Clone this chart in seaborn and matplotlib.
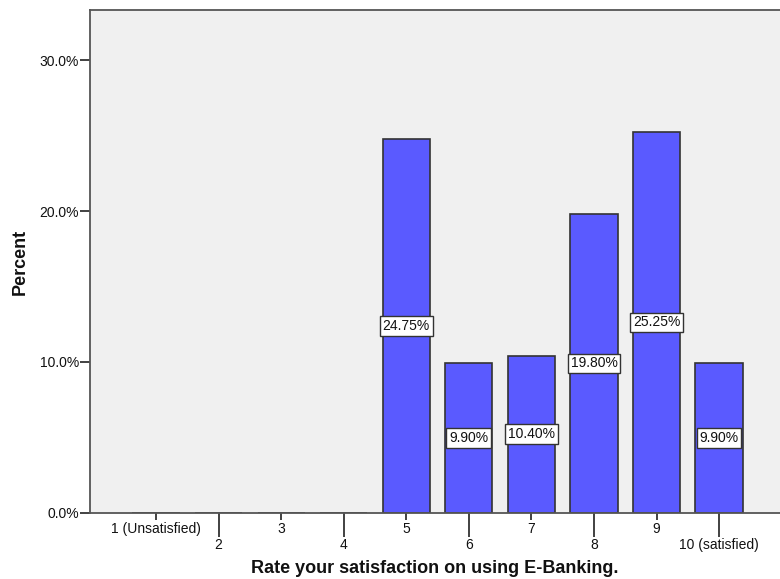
import matplotlib
matplotlib.use("Agg")
import matplotlib.pyplot as plt
import seaborn as sns
from matplotlib.ticker import FuncFormatter

# Satisfaction ratings and the share of respondents per rating (%)
ratings = ["1 (Unsatisfied)", "2", "3", "4", "5", "6", "7", "8", "9", "10 (satisfied)"]
percent = [0.0, 0.0, 0.0, 0.0, 24.75, 9.90, 10.40, 19.80, 25.25, 9.90]
y_ticks = [0, 10, 20, 30]

sns.set_theme(style="white")
plt.rcParams["font.family"] = ["Liberation Sans", "DejaVu Sans"]

W, H = 780, 579
fig = plt.figure(figsize=(W / 100, H / 100), dpi=100)
left_px, right_px, top_px, bottom_px = 90, 780, 10.3, 512.7
ax = fig.add_axes([left_px / W, (H - bottom_px) / H,
                   (right_px - left_px) / W, (bottom_px - top_px) / H])
ax.set_facecolor("#F0F0F0")

bar_color = "#5A5AFF"
sns.barplot(x=ratings, y=percent, order=ratings, color=bar_color, saturation=1,
            width=0.755, edgecolor="#333333", linewidth=1.2, ax=ax)

# value boxes at mid-height of each non-empty bar
for i, v in enumerate(percent):
    if v > 0:
        ax.text(i, v / 2, f"{v:.2f}%", ha="center", va="center", fontsize=10,
                color="#111111",
                bbox=dict(boxstyle="square,pad=0.2", fc="white", ec="#333333", lw=1))

ax.set_xlim(-1.055, 9.974)
ax.set_ylim(0, 33.31)
ax.set_yticks(y_ticks)
ax.yaxis.set_major_formatter(FuncFormatter(lambda x, _: f"{x:.1f}%"))

# staggered category labels: odd ratings on the upper row, even ratings lower
ax.set_xticks(range(0, 10, 2), labels=ratings[0::2])
ax.set_xticks(range(1, 10, 2), labels=ratings[1::2], minor=True)
ax.tick_params(axis="x", which="major", length=5.2, width=1.3, pad=1.5,
               color="#333333", labelsize=10, labelcolor="#111111", bottom=True)
ax.tick_params(axis="x", which="minor", length=17.3, width=1.3, pad=0.6,
               color="#333333", labelsize=10, labelcolor="#111111", bottom=True)
ax.tick_params(axis="y", length=7, width=1.3, pad=1, color="#333333",
               labelsize=10, labelcolor="#111111", left=True)

for side in ("left", "bottom", "top"):
    ax.spines[side].set_visible(True)
    ax.spines[side].set_color("#555555")
    ax.spines[side].set_linewidth(1.3)
ax.spines["right"].set_visible(False)

ax.set_xlabel("Rate your satisfaction on using E-Banking.", fontsize=13,
              fontweight="bold", color="#111111")
ax.set_ylabel("Percent", fontsize=13, fontweight="bold", color="#111111")
ax_h = bottom_px - top_px
ax_w = right_px - left_px
ax.xaxis.set_label_coords(0.5, -(560 - bottom_px) / ax_h)
ax.yaxis.set_label_coords(-(left_px - 29) / ax_w, 0.5)

fig.savefig("out.png", dpi=100)
